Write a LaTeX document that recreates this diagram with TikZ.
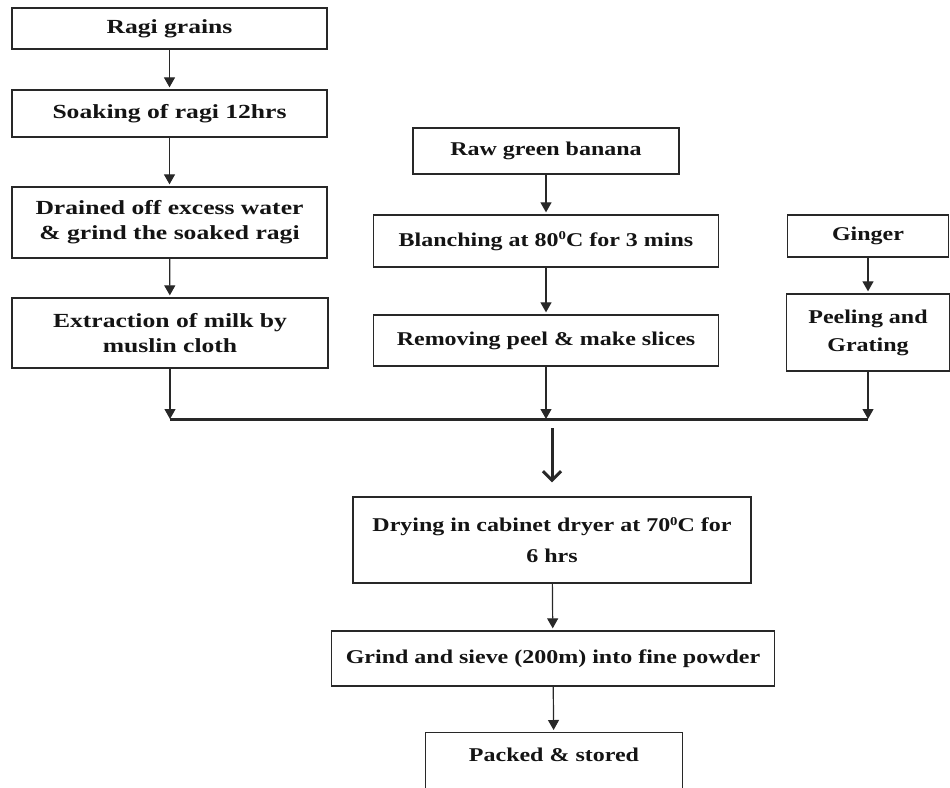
\documentclass[tikz,border=0pt]{standalone}
\usepackage{fontspec}
\usetikzlibrary{arrows.meta}
\newfontfamily\flowfont{Liberation Serif}[FakeStretch=1.23]
\newfontfamily\ragifont{Liberation Serif}[FakeStretch=1.28]
\definecolor{boxline}{RGB}{40,40,40}
\newcommand{\degzero}{\raisebox{6.5pt}{\fontsize{12}{12}\selectfont 0}}

\begin{document}
\begin{tikzpicture}
  [x=1pt,y=-1pt,
   stage/.style={draw=boxline,line width=1.3pt,fill=white,inner sep=0pt,align=center,
     text=black!92,font=\flowfont\bfseries\fontsize{19.5}{25}\selectfont},
   ragistage/.style={stage,font=\ragifont\bfseries\fontsize{20}{25}\selectfont},
   link/.style={draw=boxline,line width=1.2pt,-{Triangle[length=10pt,width=11pt]},shorten >=2pt}]
  \clip (0,0) rectangle (950,787);
  % ragi
  \node[ragistage,minimum width=315pt,minimum height=41pt] (a) at (169.5,28.5) {Ragi grains};
  \node[ragistage,minimum width=315pt,minimum height=47pt] (b) at (169.5,113.5) {Soaking of ragi 12hrs};
  \node[ragistage,minimum width=315pt,minimum height=71pt] (c) at (169.5,222.5) {Drained off excess water\\\& grind the soaked ragi};
  \node[ragistage,minimum width=316pt,minimum height=70pt] (d) at (170,333) {Extraction of milk by\\muslin cloth};
  % banana
  \node[stage,minimum width=266pt,minimum height=46pt] (e) at (546,151) {Raw green banana};
  \node[stage,minimum width=345pt,minimum height=52pt] (f) at (546,241) {Blanching at 80\degzero C for 3 mins};
  \node[stage,minimum width=345pt,minimum height=51pt] (g) at (546,340.5) {Removing peel \& make slices};
  % ginger
  \node[stage,minimum width=161pt,minimum height=42pt] (h) at (868,236) {Ginger};
  \node[stage,minimum width=163pt,minimum height=77pt] (i) at (868,332.5) {Peeling and\\[3pt]Grating};
  % after mixing
  \node[stage,minimum width=398pt,minimum height=86pt] (j) at (552,540) {Drying in cabinet dryer at 70\degzero C for\\[6pt]6 hrs};
  \node[stage,minimum width=443pt,minimum height=55pt] (k) at (553,658.5) {Grind and sieve (200m) into fine powder};
  \node[stage,minimum width=257pt,anchor=north,inner ysep=9pt,text height=20pt,text depth=50pt] (l) at (554,732) {Packed \& stored};

  \coordinate (m1) at (170,419);
  \coordinate (m2) at (546,419);
  \coordinate (m3) at (868,419);
  \coordinate (m4) at (552,428);

  \foreach \from/\to in {a/b, b/c, c/d, e/f, f/g, h/i, j/k, k/l}
    \draw[link] (\from) -- (\to);
  \foreach \from/\to in {d/m1, g/m2, i/m3}
    \draw[link,shorten >=0pt] (\from) -- (\to);

  \draw[boxline,line width=3pt] (m1) -- (m3);
  \draw[boxline,line width=3pt,-{Straight Barb[length=9pt,width=18pt]},shorten >=14pt] (m4) -- (j);
\end{tikzpicture}
\end{document}
